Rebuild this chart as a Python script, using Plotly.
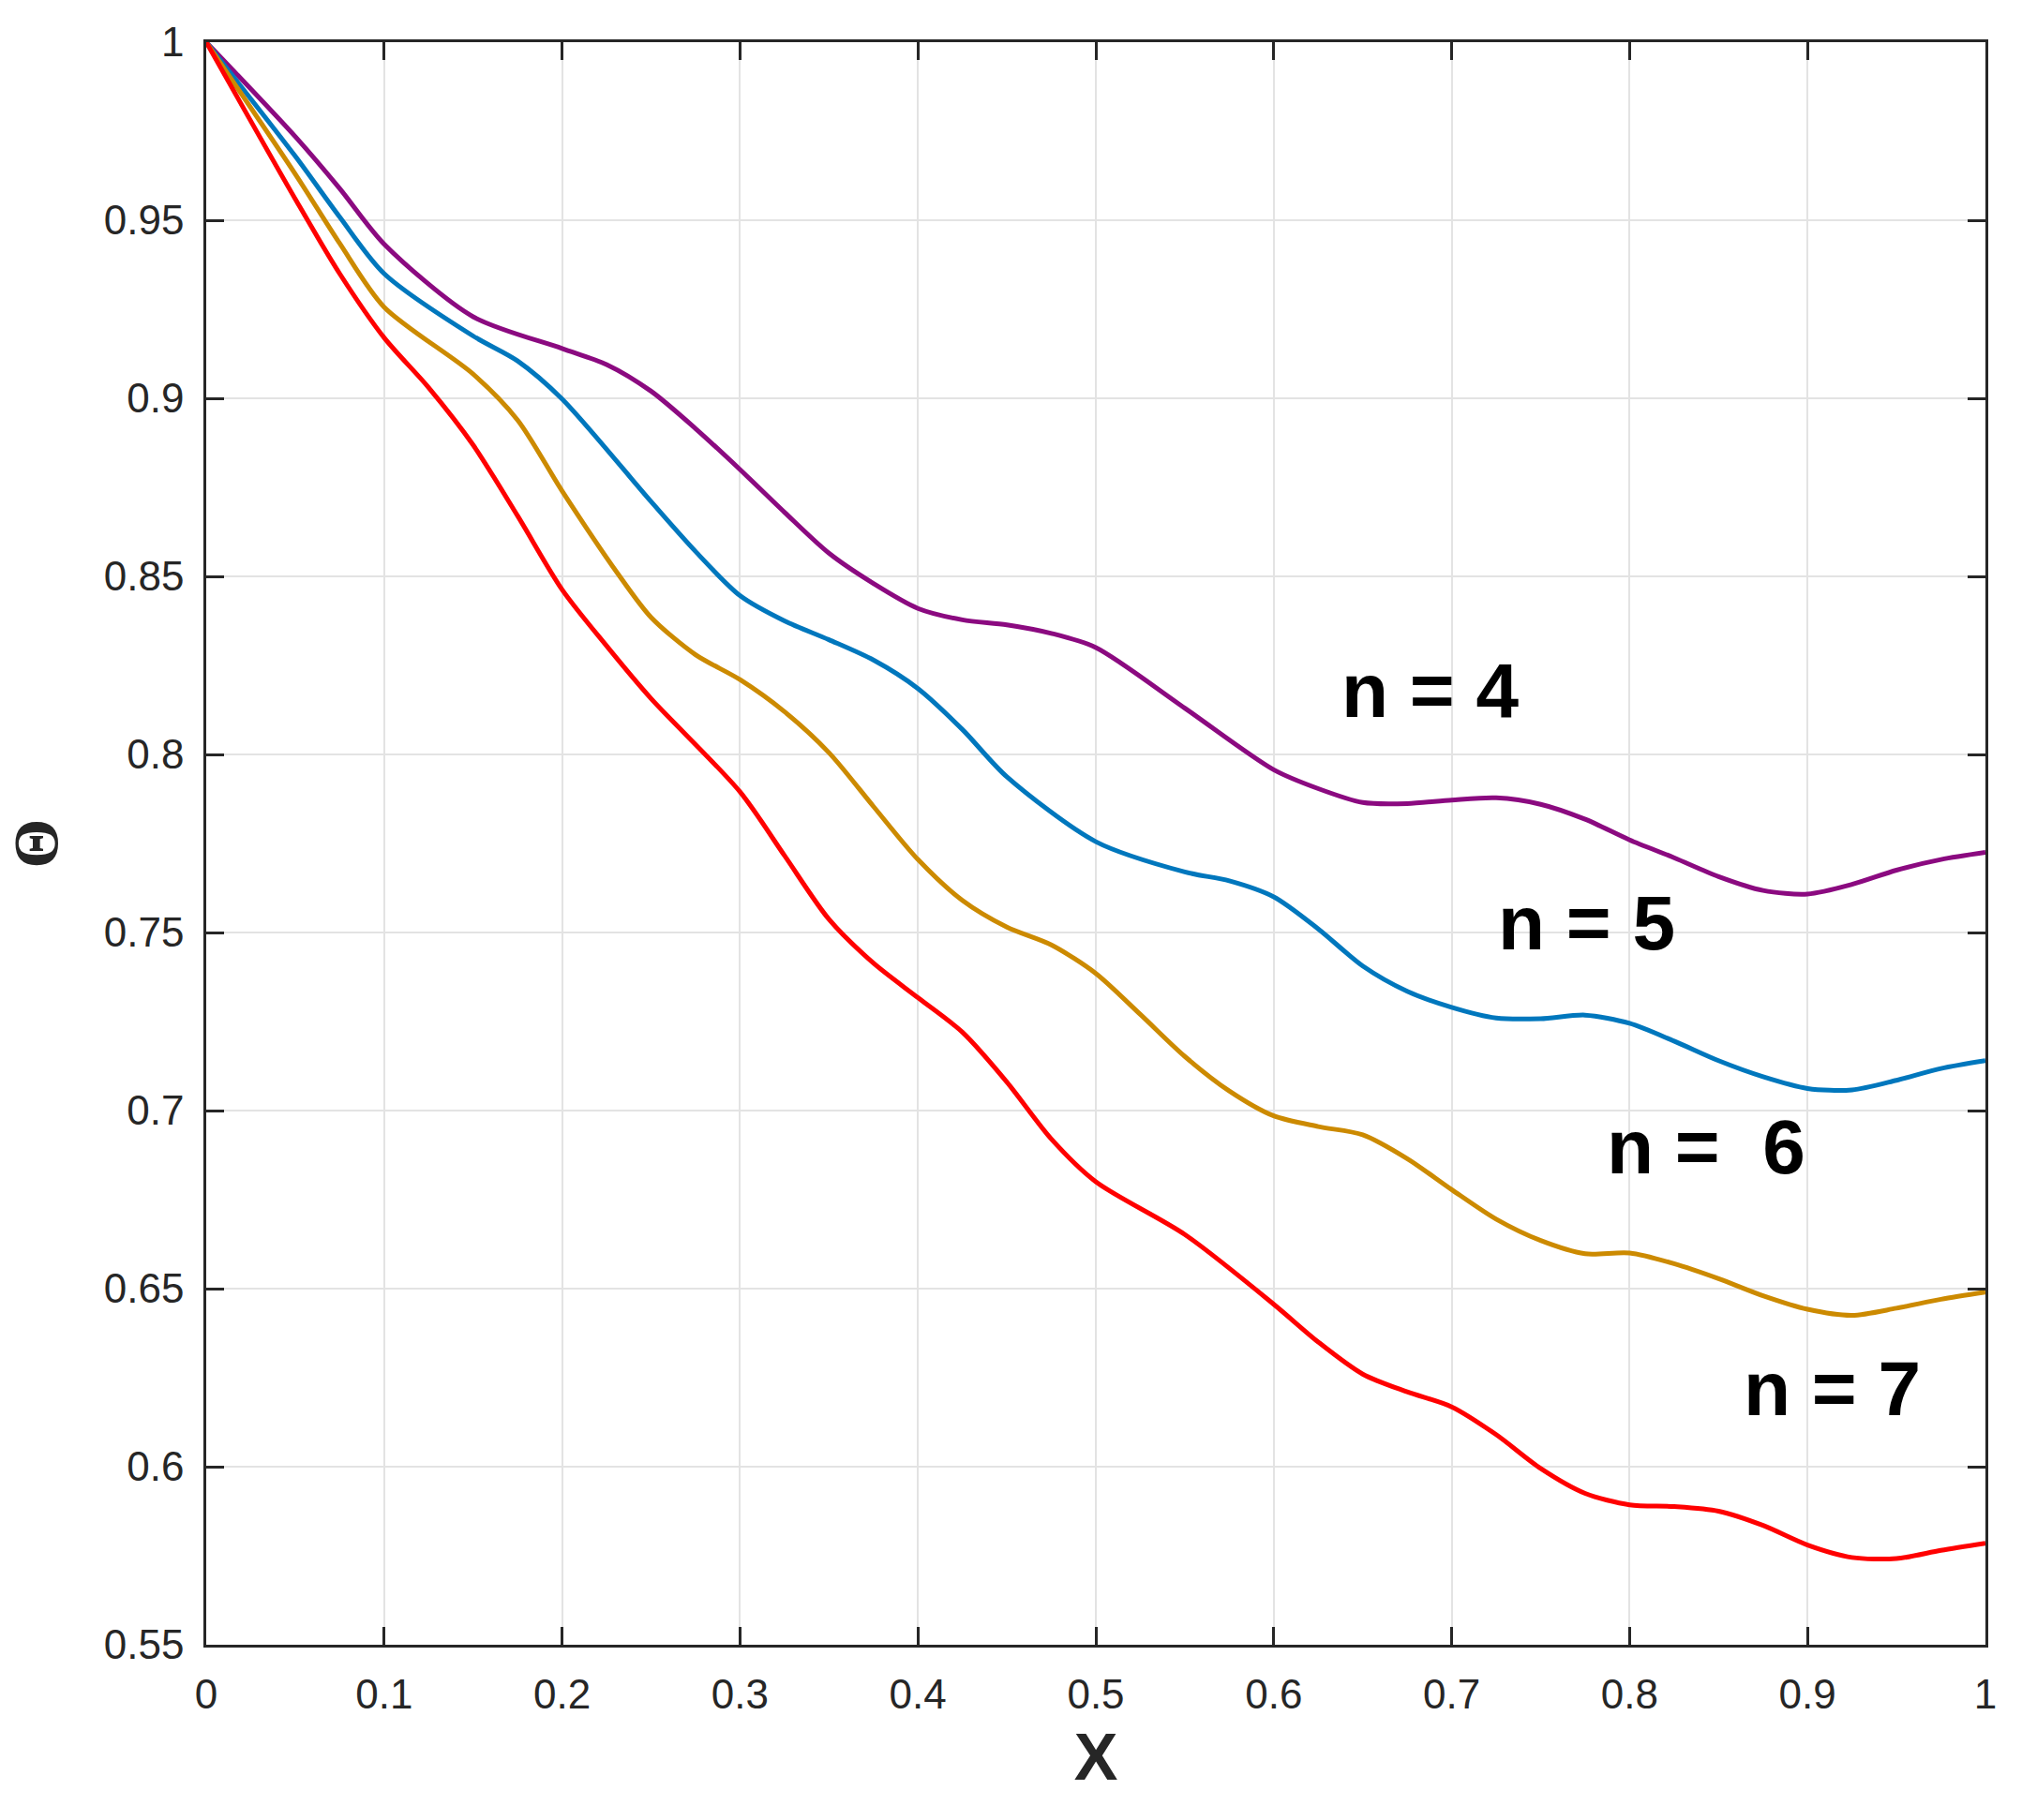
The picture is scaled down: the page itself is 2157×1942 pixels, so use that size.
import plotly.graph_objects as go

# ---- data ----
x_n4 = [0, 0.05, 0.075, 0.1, 0.15, 0.2, 0.225, 0.25, 0.275, 0.3, 0.325, 0.35, 0.375, 0.4, 0.425, 0.45, 0.475, 0.5,
        0.55, 0.6, 0.625, 0.65, 0.675, 0.7, 0.725, 0.75, 0.775, 0.8, 0.825, 0.85, 0.875, 0.9,
        0.925, 0.95, 0.975, 1.0]
y_n4 = [1.0, 0.9735, 0.9589, 0.9433, 0.9229, 0.914, 0.9095, 0.902, 0.8915, 0.880, 0.868, 0.8565, 0.848, 0.841, 0.8378, 0.8364, 0.834, 0.830,
        0.813, 0.7957, 0.7904, 0.7865, 0.7862, 0.7872, 0.7878, 0.786, 0.7818, 0.776, 0.771, 0.7657, 0.7618, 0.7608,
        0.7635, 0.7675, 0.7705, 0.7725]

x_n5 = [0, 0.05, 0.075, 0.1, 0.15, 0.175, 0.2, 0.25, 0.275, 0.3, 0.325, 0.35, 0.375, 0.4, 0.425, 0.45, 0.5,
        0.55, 0.575, 0.6, 0.625, 0.65, 0.675, 0.7, 0.725, 0.75, 0.775, 0.8, 0.825, 0.85, 0.875, 0.9,
        0.925, 0.95, 0.975, 1.0]
y_n5 = [1.0, 0.968, 0.9509, 0.935, 0.9175, 0.9105, 0.8998, 0.871, 0.857, 0.8446, 0.8375, 0.8322, 0.8265, 0.8185, 0.807, 0.7937, 0.7755,
        0.767, 0.7645, 0.760, 0.751, 0.7406, 0.7335, 0.729, 0.726, 0.7258, 0.7268, 0.7245, 0.7195, 0.714, 0.7095, 0.7062,
        0.7058, 0.7085, 0.7118, 0.714]

x_n6 = [0, 0.05, 0.075, 0.1, 0.15, 0.175, 0.2, 0.231, 0.25, 0.275, 0.3, 0.325, 0.35, 0.375, 0.4, 0.425, 0.45, 0.475, 0.5,
        0.525, 0.55, 0.575, 0.6, 0.625, 0.65, 0.675, 0.7, 0.725, 0.75, 0.775, 0.8, 0.825, 0.85, 0.875, 0.9,
        0.925, 0.95, 0.975, 1.0]
y_n6 = [1.0, 0.963, 0.9435, 0.9256, 0.9068, 0.8939, 0.874, 0.851, 0.8385, 0.828, 0.821, 0.812, 0.8005, 0.7854, 0.7705, 0.759, 0.7515, 0.7465, 0.7385,
        0.727, 0.7152, 0.7055, 0.6985, 0.6955, 0.6932, 0.6865, 0.6778, 0.6695, 0.6635, 0.6598, 0.660, 0.657, 0.6528, 0.648, 0.6442,
        0.6425, 0.6445, 0.647, 0.649]

x_n7 = [0, 0.05, 0.075, 0.1, 0.125, 0.15, 0.175, 0.2, 0.225, 0.25, 0.3, 0.325, 0.35, 0.375, 0.4, 0.425, 0.45, 0.475, 0.5,
        0.55, 0.6, 0.625, 0.65, 0.675, 0.7, 0.725, 0.75, 0.775, 0.8, 0.825, 0.85, 0.875, 0.9,
        0.925, 0.95, 0.975, 1.0]
y_n7 = [1.0, 0.956, 0.935, 0.917, 0.903, 0.8869, 0.867, 0.8463, 0.8305, 0.8157, 0.7895, 0.7716, 0.7537, 0.7414, 0.7317, 0.722, 0.708, 0.692, 0.680,
        0.6652, 0.6456, 0.635, 0.626, 0.621, 0.6168, 0.609, 0.5995, 0.5925, 0.5893, 0.5888, 0.5875, 0.5835, 0.578,
        0.5745, 0.5742, 0.5765, 0.5785]

series_x = [x_n4, x_n5, x_n6, x_n7]
series_y = [y_n4, y_n5, y_n6, y_n7]
series_colors = ["#8B0A80", "#0077BD", "#CC8A00", "#FF0000"]

label_text = ["n = 4", "n = 5", "n = \u00a06", "n = 7"]
label_x = [0.688, 0.776, 0.843, 0.914]
label_y = [0.818, 0.7527, 0.6898, 0.6219]

x_tickvals = [0, 0.1, 0.2, 0.3, 0.4, 0.5, 0.6, 0.7, 0.8, 0.9, 1.0]
x_ticktext = ["0", "0.1", "0.2", "0.3", "0.4", "0.5", "0.6", "0.7", "0.8", "0.9", "1"]
y_tickvals = [0.55, 0.6, 0.65, 0.7, 0.75, 0.8, 0.85, 0.9, 0.95, 1.0]
y_ticktext = ["0.55", "0.6", "0.65", "0.7", "0.75", "0.8", "0.85", "0.9", "0.95", "1"]

fig = go.Figure()
for xs, ys, c in zip(series_x, series_y, series_colors):
    fig.add_trace(go.Scatter(x=xs, y=ys, mode="lines",
                             line=dict(color=c, width=5, shape="spline", smoothing=0.8),
                             showlegend=False, hoverinfo="skip"))

for t, xv, yv in zip(label_text, label_x, label_y):
    fig.add_annotation(x=xv, y=yv, xref="x", yref="y", text="<b>" + t + "</b>", showarrow=False,
                       font=dict(family="Liberation Sans, Arial, sans-serif", size=82, color="#000000"),
                       xanchor="center", yanchor="middle")

axis_common = dict(
    showline=True, linecolor="#262626", linewidth=2.5, mirror="ticks",
    ticks="inside", ticklen=19, tickwidth=2.5, tickcolor="#262626",
    showgrid=True, gridcolor="#E3E3E3", gridwidth=2,
    zeroline=False,
    tickfont=dict(family="Liberation Sans, Arial, sans-serif", size=44, color="#262626"),
)

fig.update_xaxes(range=[0, 1], tickvals=x_tickvals, ticktext=x_ticktext,
                 title=dict(text="<b>X</b>", font=dict(family="Liberation Sans, Arial, sans-serif", size=70, color="#262626"), standoff=20),
                 ticklabelstandoff=12,
                 **axis_common)
fig.update_yaxes(range=[0.55, 1], tickvals=y_tickvals, ticktext=y_ticktext,
                 title=dict(text="<b>Θ</b>", font=dict(family="Liberation Serif, Times New Roman, serif", size=68, color="#262626"), standoff=30),
                 ticklabelstandoff=12,
                 **axis_common)

fig.update_layout(
    width=2157, height=1942,
    margin=dict(l=220, r=39, t=45, b=187),
    paper_bgcolor="white", plot_bgcolor="white",
)

fig.write_html("out.html")
